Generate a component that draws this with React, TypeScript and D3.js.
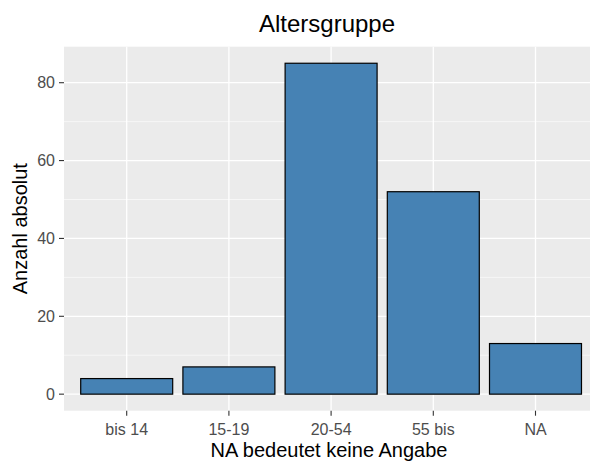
import React from "react";
import * as d3 from "d3";

const categories = ["bis 14", "15-19", "20-54", "55 bis", "NA"];
const counts = [4, 7, 85, 52, 13];
const yMajorTicks = [0, 20, 40, 60, 80];
const yMinorTicks = [10, 30, 50, 70];
const title = "Altersgruppe";
const xTitle = "NA bedeutet keine Angabe";
const yTitle = "Anzahl absolut";

const W = 590;
const H = 463;
const panel = { left: 64, right: 590, top: 46.7, bottom: 410.7 };

export default function App() {
  const yMax = d3.max(counts) as number;
  const pad = yMax * 0.05;
  const y = d3
    .scaleLinear()
    .domain([-pad, yMax + pad])
    .range([panel.bottom, panel.top]);
  // discrete positions 1..5 with ggplot's 0.6 expansion
  const x = d3.scaleLinear().domain([1, 5]).range([126.7, 535.5]);
  const unit = x(2) - x(1);
  const barW = unit * 0.9;
  const font = "'Liberation Sans', Arial, sans-serif";

  return (
    <svg width={W} height={H} style={{ position: "absolute", left: 0, top: 0 }}>
      <rect x={0} y={0} width={W} height={H} fill="#ffffff" />
      <rect
        x={panel.left}
        y={panel.top}
        width={panel.right - panel.left}
        height={panel.bottom - panel.top}
        fill="#EBEBEB"
      />
      {yMinorTicks.map((t) => (
        <line key={"mn" + t} x1={panel.left} x2={panel.right} y1={y(t)} y2={y(t)} stroke="#fff" strokeWidth={0.6} />
      ))}
      {yMajorTicks.map((t) => (
        <line key={"mj" + t} x1={panel.left} x2={panel.right} y1={y(t)} y2={y(t)} stroke="#fff" strokeWidth={1.3} />
      ))}
      {categories.map((c, i) => (
        <line key={"vx" + c} x1={x(i + 1)} x2={x(i + 1)} y1={panel.top} y2={panel.bottom} stroke="#fff" strokeWidth={1.3} />
      ))}
      {categories.map((c, i) => (
        <rect
          key={"bar" + c}
          x={x(i + 1) - barW / 2}
          y={y(counts[i])}
          width={barW}
          height={y(0) - y(counts[i])}
          fill="#4682B4"
          stroke="#000"
          strokeWidth={1.2}
        />
      ))}
      {/* y axis */}
      {yMajorTicks.map((t) => (
        <g key={"yt" + t}>
          <line x1={panel.left - 5} x2={panel.left} y1={y(t)} y2={y(t)} stroke="#333" strokeWidth={1.1} />
          <text x={panel.left - 9} y={y(t)} dy="0.36em" textAnchor="end" fontSize={16} fill="#4D4D4D" fontFamily={font}>
            {t}
          </text>
        </g>
      ))}
      {/* x axis */}
      {categories.map((c, i) => (
        <g key={"xt" + c}>
          <line x1={x(i + 1)} x2={x(i + 1)} y1={panel.bottom} y2={panel.bottom + 5} stroke="#333" strokeWidth={1.1} />
          <text x={x(i + 1)} y={435} textAnchor="middle" fontSize={16} fill="#4D4D4D" fontFamily={font}>
            {c}
          </text>
        </g>
      ))}
      <text x={(panel.left + panel.right) / 2 + 2} y={457} textAnchor="middle" fontSize={20} fill="#000" fontFamily={font}>
        {xTitle}
      </text>
      <text
        transform={`translate(27,${(panel.top + panel.bottom) / 2}) rotate(-90)`}
        textAnchor="middle"
        fontSize={20}
        fill="#000"
        fontFamily={font}
      >
        {yTitle}
      </text>
      <text x={(panel.left + panel.right) / 2} y={32} textAnchor="middle" fontSize={24} fill="#000" fontFamily={font}>
        {title}
      </text>
    </svg>
  );
}
